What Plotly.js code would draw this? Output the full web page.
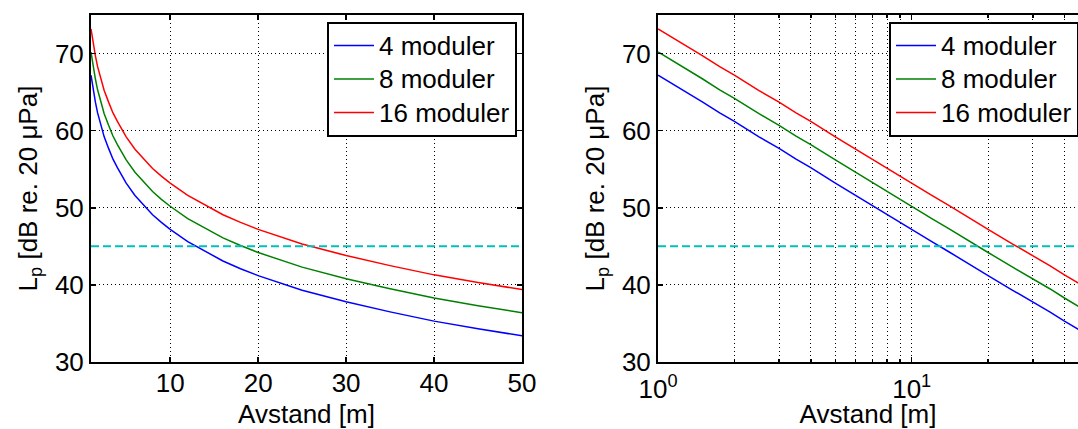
<!DOCTYPE html>
<html><head><meta charset="utf-8">
<script src="https://cdn.plot.ly/plotly-3.0.1.min.js"></script>
<style>html,body{margin:0;padding:0;background:#fff}#chart{width:1078px;height:429px}</style>
</head><body><div id="chart"></div>
<script>
// Distance [m]
const distance = [1, 1.25, 1.5, 1.75, 2, 2.5, 3, 3.5, 4, 5, 6, 7, 8, 9, 10, 12, 14, 16, 18, 20, 25, 30, 35, 40, 45, 50];
// Sound pressure level Lp [dB re. 20 uPa]
const lp4  = [67.2, 65.3, 63.7, 62.3, 61.2, 59.2, 57.7, 56.3, 55.2, 53.2, 51.6, 50.3, 49.1, 48.1, 47.2, 45.6, 44.3, 43.1, 42.1, 41.2, 39.3, 37.8, 36.5, 35.3, 34.3, 33.4];
const lp8  = [70.2, 68.3, 66.7, 65.3, 64.2, 62.2, 60.7, 59.3, 58.2, 56.2, 54.6, 53.3, 52.1, 51.1, 50.2, 48.6, 47.3, 46.1, 45.1, 44.2, 42.3, 40.8, 39.5, 38.3, 37.3, 36.4];
const lp16 = [73.2, 71.3, 69.7, 68.3, 67.2, 65.2, 63.7, 62.3, 61.2, 59.2, 57.6, 56.3, 55.1, 54.1, 53.2, 51.6, 50.3, 49.1, 48.1, 47.2, 45.3, 43.8, 42.5, 41.3, 40.3, 39.4];
const seriesNames = ['4 moduler', '8 moduler', '16 moduler'];
const seriesColors = ['#0000ff', '#008000', '#ff0000'];
const limitX = [1, 50];
const limitY = [45, 45];
const xTicksLin = [10, 20, 30, 40, 50];
const xTicksLog = [1, 10];
const xTickTextLog = ['10<sup>0</sup>', '10<sup>1</sup>'];
const xMinorLog = [2, 3, 4, 5, 6, 7, 8, 9, 20, 30, 40];
const yTicks = [30, 40, 50, 60, 70];
const xTitle = 'Avstand [m]';
const yTitle = 'L<sub>p</sub> [dB re. 20 \u03bcPa]';

const FONT = 'Arial, "Liberation Sans", sans-serif';
const allY = [lp4, lp8, lp16];
const traces = [];
[['x', 'y', 'legend'], ['x2', 'y2', 'legend2']].forEach(([xa, ya, lg]) => {
  allY.forEach((ys, i) => {
    traces.push({x: distance, y: ys, xaxis: xa, yaxis: ya, type: 'scatter', mode: 'lines',
      name: '<span style="font-size:26px">' + seriesNames[i] + '</span>', legend: lg,
      line: {color: seriesColors[i], width: 1.5}});
  });
  traces.push({x: limitX, y: limitY, xaxis: xa, yaxis: ya, type: 'scatter', mode: 'lines',
    showlegend: false, hoverinfo: 'skip', line: {color: '#00bfbf', width: 2, dash: '8px,4px'}});
});

const common = {showline: true, linecolor: 'black', linewidth: 2, ticks: 'inside', ticklen: 5,
  tickwidth: 1.5, tickcolor: 'black', showgrid: true, gridcolor: 'black', gridwidth: 1,
  griddash: '1px,3px', zeroline: false, tickfont: {family: FONT, size: 26, color: 'black'},
  fixedrange: true};
const tfont = {family: FONT, size: 26, color: 'black'};

const legendCommon = {y: 0.9807, yanchor: 'top', bgcolor: 'white', bordercolor: 'black',
  borderwidth: 2, itemwidth: 40, font: {family: FONT, size: 23.5, color: 'black'}};

const layout = {
  width: 1078, height: 429,
  margin: {l: 91, r: 0, t: 15, b: 67, autoexpand: false},
  paper_bgcolor: 'white', plot_bgcolor: 'white',
  font: {family: FONT, size: 26, color: 'black'},
  xaxis: Object.assign({}, common, {domain: [0, 0.4367], range: [1, 50], tickmode: 'array',
    tickvals: xTicksLin, mirror: 'ticks', anchor: 'y', ticklabelstandoff: -3,
    title: {text: xTitle, font: tfont, standoff: 12}}),
  yaxis: Object.assign({}, common, {domain: [0, 1], range: [30, 75], tickmode: 'array',
    tickvals: yTicks, mirror: 'ticks', anchor: 'x', ticklabelstandoff: 0,
    title: {text: yTitle, font: tfont, standoff: 10}}),
  xaxis2: Object.assign({}, common, {type: 'log', domain: [0.5745, 1], range: [0, 1.6555],
    tickmode: 'array', tickvals: xTicksLog, ticktext: xTickTextLog, mirror: 'ticks', anchor: 'y2',
    ticklabelstandoff: 3,
    minor: {tickmode: 'array', tickvals: xMinorLog, ticks: 'inside', ticklen: 3, tickcolor: 'black',
      showgrid: true, gridcolor: 'black', gridwidth: 1, griddash: '1px,3px'},
    title: {text: xTitle, font: tfont, standoff: 9}}),
  yaxis2: Object.assign({}, common, {domain: [0, 1], range: [30, 75], tickmode: 'array',
    tickvals: yTicks, mirror: false, anchor: 'x2', ticklabelstandoff: 0,
    title: {text: yTitle, font: tfont, standoff: 10}}),
  legend: Object.assign({}, legendCommon, {x: 0.4316, xanchor: 'right'}),
  legend2: Object.assign({}, legendCommon, {x: 0.8085, xanchor: 'left'}),
  showlegend: true
};

Plotly.newPlot('chart', traces, layout, {staticPlot: true, displayModeBar: false});
</script>
</body></html>
